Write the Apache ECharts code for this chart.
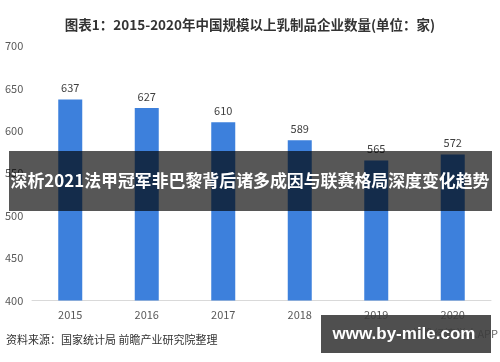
<!DOCTYPE html>
<html>
<head>
<meta charset="utf-8">
<script src="https://cdn.jsdelivr.net/npm/echarts@6/dist/echarts.min.js"></script>
<style>
html,body{margin:0;padding:0;background:#fff;}
#c{width:500px;height:362px;}
</style>
</head>
<body>
<div id="c"></div>
<script>
var years = ['2015','2016','2017','2018','2019','2020'];
var counts = [637, 627, 610, 589, 565, 572];
var yTicks = [400, 450, 500, 550, 600, 650, 700];
var titleText = '图表1：2015-2020年中国规模以上乳制品企业数量(单位：家)';
var sourceText = '资料来源：国家统计局 前瞻产业研究院整理';
var bannerText = '深析2021法甲冠军非巴黎背后诸多成因与联赛格局深度变化趋势';
var siteText = 'www.by-mile.com';

var chart = echarts.init(document.getElementById('c'), null, {renderer:'canvas'});
var font = '"Noto Sans CJK SC", "Noto Sans", sans-serif';
chart.setOption({
  animation: false,
  backgroundColor: '#ffffff',
  title: {
    text: titleText,
    left: 245, top: 13, textAlign: 'center',
    textStyle: {fontFamily: font, fontSize: 13.5, fontWeight: 'bold', color: '#333333'}
  },
  grid: {left: 32, right: 9, top: 46, bottom: 61.5, containLabel: false},
  xAxis: {
    type: 'category',
    data: years,
    axisLine: {lineStyle: {color: '#d9d9d9', width: 1}},
    axisTick: {show: false},
    axisLabel: {fontFamily: font, fontSize: 11, color: '#595959', margin: 9}
  },
  yAxis: {
    type: 'value',
    min: yTicks[0], max: yTicks[yTicks.length-1], interval: 50,
    splitLine: {show: false},
    axisLine: {show: false},
    axisTick: {show: false},
    axisLabel: {fontFamily: font, fontSize: 11, color: '#595959', align: 'left', margin: 27}
  },
  series: [{
    type: 'bar',
    data: counts,
    barWidth: 24,
    itemStyle: {color: '#3d80dc'},
    label: {show: true, position: 'top', distance: 6, fontFamily: font, fontSize: 11, color: '#404040'}
  }],
  graphic: [
    {type: 'text', left: 6, top: 334, style: {text: sourceText, font: '11px ' + font, fill: '#333333'}},
    {type: 'text', right: 2, top: 328, z: 5, style: {text: '@前瞻经济学人APP', font: '11px ' + font, fill: '#666666'}},
    {type: 'rect', shape: {x: 9, y: 151, width: 483, height: 60}, z: 10, style: {fill: 'rgba(0,0,0,0.66)'}},
    {type: 'text', x: 250, y: 181, z: 11, style: {text: bannerText, font: 'bold 16.9px ' + font, fill: '#ffffff', align: 'center', verticalAlign: 'middle'}},
    {type: 'rect', shape: {x: 321, y: 315, width: 170, height: 38}, z: 10, style: {fill: 'rgba(60,60,60,0.9)'}},
    {type: 'text', x: 404, y: 334, z: 11, style: {text: siteText, font: 'bold 17px "Liberation Sans", Arial, sans-serif', fill: '#ffffff', align: 'center', verticalAlign: 'middle'}}
  ]
});
</script>
</body>
</html>
